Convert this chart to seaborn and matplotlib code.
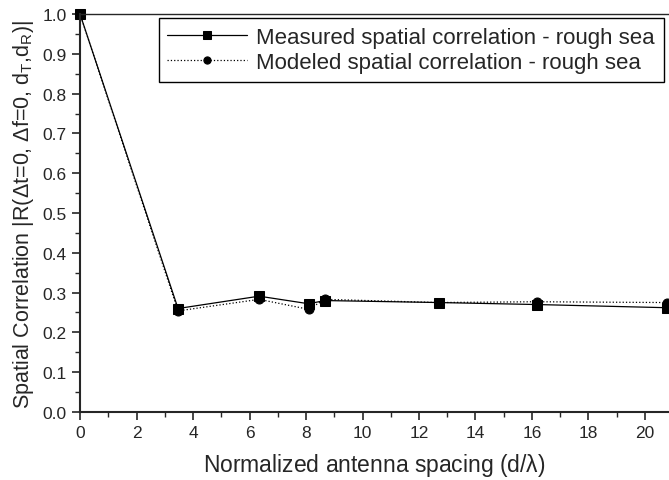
import numpy as np
import pandas as pd
import matplotlib.pyplot as plt
import seaborn as sns
from matplotlib.ticker import MultipleLocator

spacing = [0, 3.47, 6.34, 8.09, 8.67, 12.71, 16.16, 20.78]
measured = [1.0, 0.260, 0.291, 0.272, 0.280, 0.275, 0.270, 0.262]
modeled = [1.0, 0.254, 0.283, 0.258, 0.283, 0.275, 0.277, 0.275]
labels = ['Measured spatial correlation - rough sea',
          'Modeled spatial correlation - rough sea']

df = pd.DataFrame({
    'd': spacing * 2,
    'R': measured + modeled,
    'series': [labels[0]] * len(spacing) + [labels[1]] * len(spacing),
})

sns.set_style('ticks')
plt.rcParams['font.family'] = ['Liberation Sans', 'DejaVu Sans']
plt.rcParams['mathtext.fontset'] = 'custom'
plt.rcParams['mathtext.rm'] = 'Liberation Sans'
plt.rcParams['mathtext.it'] = 'Liberation Sans'

fig = plt.figure(figsize=(6.69, 4.81), dpi=100)
ax = fig.add_axes([0.1196, 0.1414, 0.8804, 0.8274])

sns.lineplot(data=df, x='d', y='R', hue='series', style='series',
             palette=['black', 'black'], dashes=[(None, None), (1, 1)],
             markers=['s', 'o'], markersize=6.5, markeredgecolor='black',
             linewidth=0.9, ax=ax, legend=True)
ax.lines[1].set_linestyle(':')
for ln in ax.lines:
    ln.set_clip_on(False)

ax.set_xlim(0, 20.85)
ax.set_ylim(0, 1.0)
ax.xaxis.set_major_locator(MultipleLocator(2))
ax.xaxis.set_minor_locator(MultipleLocator(1))
ax.yaxis.set_major_locator(MultipleLocator(0.1))
ax.yaxis.set_minor_locator(MultipleLocator(0.05))
ax.tick_params(which='major', direction='out', length=6, width=1.2, labelsize=12.5)
ax.tick_params(which='minor', direction='out', length=3.5, width=1.0)
for s in ['left', 'bottom']:
    ax.spines[s].set_linewidth(1.5)
ax.spines['top'].set_linewidth(1.0)
ax.spines['right'].set_visible(False)

ax.set_xlabel(r'Normalized antenna spacing (d/$\lambda$)', fontsize=16.5, labelpad=8)
ax.set_ylabel(r'Spatial Correlation |R($\Delta$t=0, $\Delta$f=0, d$_T$,d$_R$)|', fontsize=15.5, labelpad=5)

handles, _ = ax.get_legend_handles_labels()
handles[1].set_linestyle(':')
leg = ax.legend(handles, labels, loc='upper right', bbox_to_anchor=(0.995, 0.995),
                fancybox=False, edgecolor='black', framealpha=1, fontsize=16,
                handlelength=3.6, borderpad=0.4, labelspacing=0.18, handletextpad=0.4,
                borderaxespad=0.1, markerscale=0.8)
leg.get_frame().set_linewidth(1.0)

fig.savefig('out.png', dpi=100)
